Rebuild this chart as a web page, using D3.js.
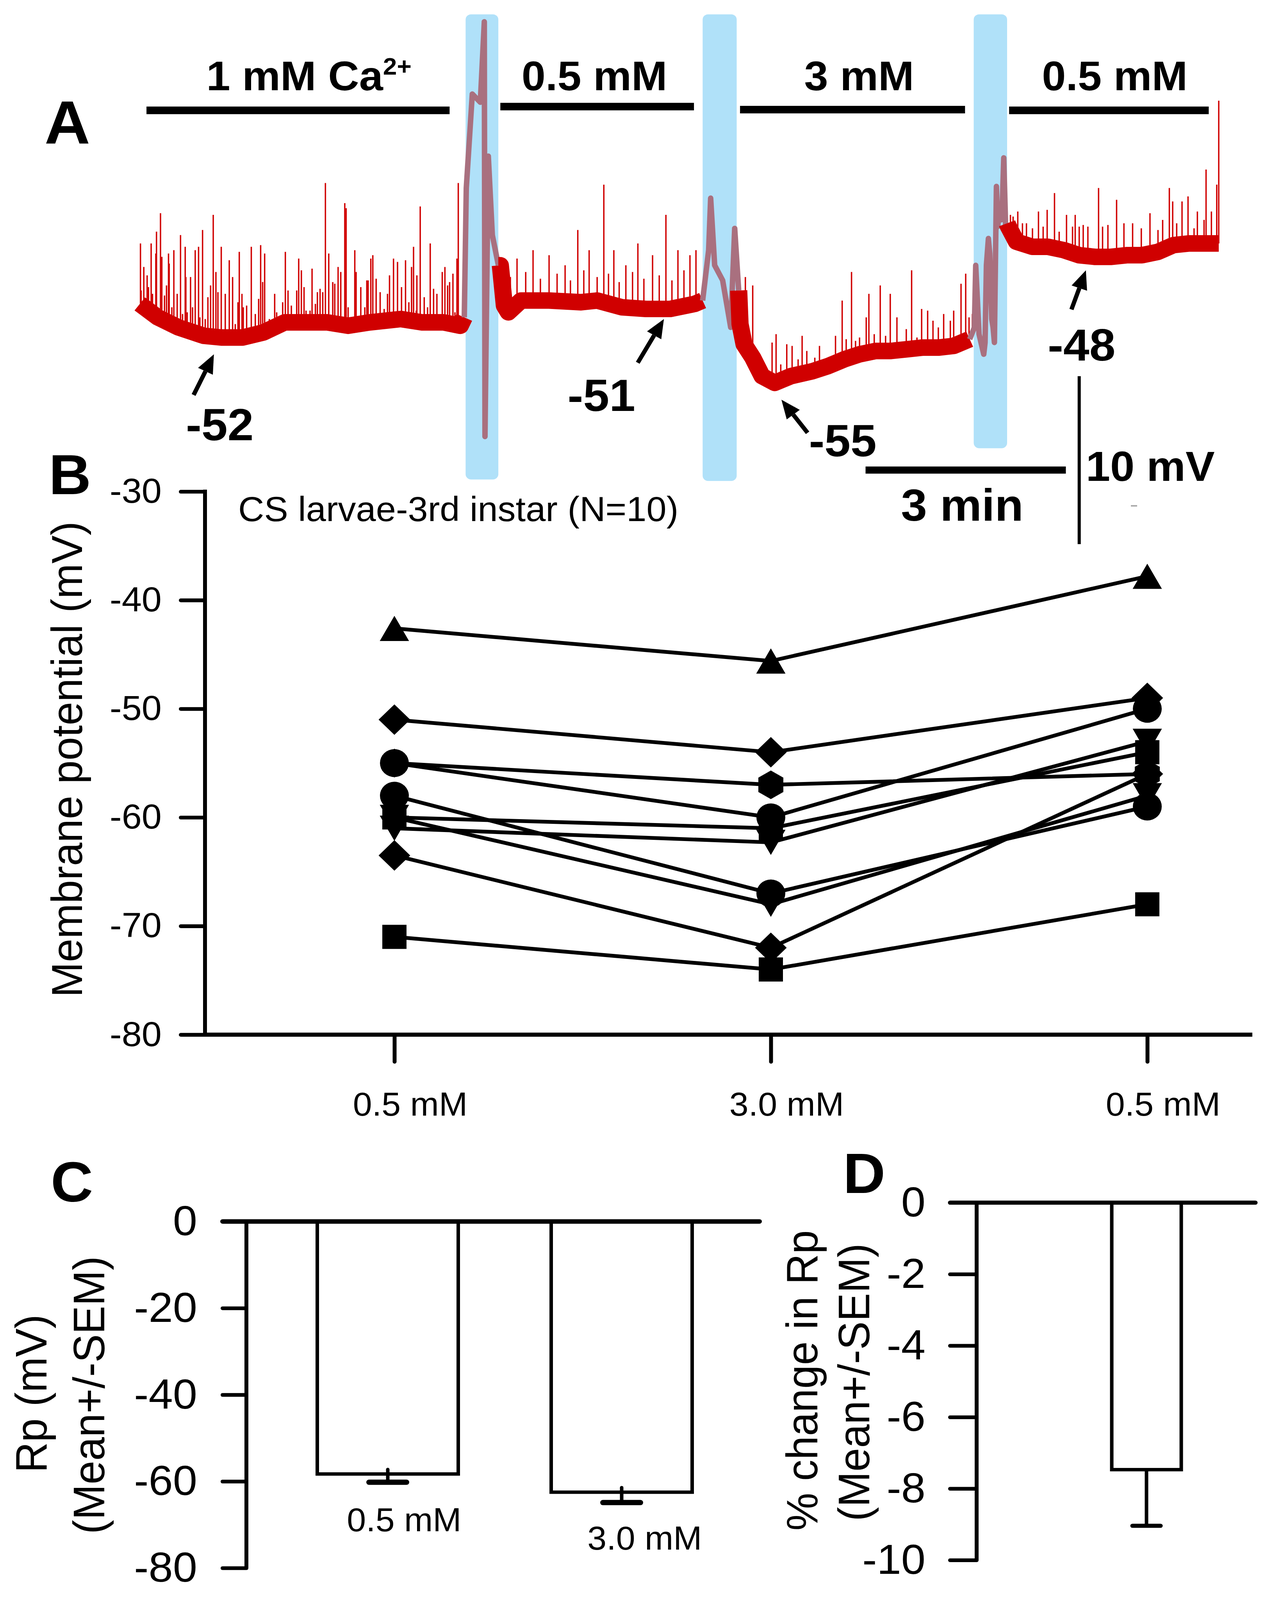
<!DOCTYPE html>
<html>
<head>
<meta charset="utf-8">
<script src="https://cdn.jsdelivr.net/npm/d3@7"></script>
<style>
  html, body { margin: 0; padding: 0; background: #fff; width: 100%; height: 100%; overflow: hidden; }
  .figure { width: 100vw; height: 100vh; }
  svg { display: block; width: 100%; height: 100%; }
</style>
</head>
<body>
<div class="figure"></div>
<script>
// ---------- A: recording (time in min, potential in mV) ----------
const recTime = [
  0.00, 0.27, 0.58, 0.96, 1.22, 1.54, 1.85, 2.17, 2.49, 2.81, 3.12, 3.44, 3.91, 4.23, 4.55, 4.80, 4.86,
  4.89, 4.98, 5.10, 5.16, 5.17, 5.22, 5.28, 5.37,
  5.40, 5.46, 5.52, 5.71, 6.13, 6.61, 6.85, 7.22, 7.58, 7.94, 8.31, 8.43,
  8.52, 8.55, 8.61, 8.73, 8.85, 8.91, 8.97,
  8.99, 9.05, 9.18, 9.32, 9.51, 9.75, 10.08, 10.31, 10.55, 10.78, 11.02, 11.25, 11.49, 11.72, 11.96, 12.19, 12.43,
  12.50, 12.52, 12.57, 12.64, 12.66, 12.68, 12.71, 12.73, 12.76, 12.78, 12.80, 12.83, 12.85, 12.87, 12.90, 12.92, 12.94, 12.97, 12.99,
  13.01, 13.13, 13.37, 13.60, 13.84, 14.07, 14.31, 14.54, 14.78, 15.01, 15.25, 15.48, 15.72, 15.95, 16.16
]
const recMv = [
  -49.8, -50.6, -51.2, -51.7, -51.8, -51.8, -51.5, -50.9, -50.9, -50.9, -51.1, -50.9, -50.7, -50.9, -50.9, -51.1, -50.6,
  -42.9, -37.3, -37.8, -33.0, -57.7, -41.0, -45.7, -47.5,
  -47.5, -49.9, -50.3, -49.6, -49.6, -49.7, -49.6, -50.0, -50.1, -50.1, -49.8, -49.6,
  -46.6, -43.5, -47.5, -48.4, -51.2, -45.3, -49.0,
  -51.0, -52.2, -53.0, -54.1, -54.5, -54.1, -53.8, -53.5, -53.1, -52.8, -52.6, -52.6, -52.5, -52.4, -52.4, -52.3, -51.9,
  -51.2, -47.5, -51.6, -52.8, -52.1, -47.5, -45.9, -46.8, -50.7, -51.2, -52.1, -42.8, -45.2, -44.3, -44.8, -43.7, -41.1, -45.5, -45.0,
  -45.2, -46.1, -46.4, -46.4, -46.6, -46.9, -47.0, -47.0, -46.9, -46.9, -46.7, -46.3, -46.2, -46.2, -46.2
]
// spontaneous events: time and peak potential
const spikeTime = [
  // 1 mM
  0.01, 0.06, 0.11, 0.17, 0.24, 0.25, 0.31, 0.33, 0.43, 0.44, 0.51, 0.61, 0.68, 0.69, 0.76, 0.83, 0.88, 0.94, 1.02, 1.06,
  1.10, 1.14, 1.22, 1.34, 1.39, 1.49, 1.53, 1.67, 1.81, 1.87, 2.02, 2.18, 2.22, 2.38, 2.42, 2.58, 2.63, 2.70, 2.78, 2.83,
  2.97, 3.01, 3.07, 3.09, 3.22, 3.24, 3.40, 3.46, 3.49, 3.54, 3.74, 3.80, 3.86, 3.98, 4.07, 4.10, 4.15, 4.20, 4.35, 4.40,
  4.53, 4.57, 4.69, 4.75, 4.77,
  0.02, 0.13, 0.19, 0.27, 0.37, 0.40, 0.48, 0.56, 0.64, 0.71, 0.79, 0.90, 0.98, 1.17, 1.28, 1.43, 1.47, 1.55, 1.60, 1.73,
  1.78, 1.84, 1.94, 2.05, 2.14, 2.27, 2.35, 2.46, 2.49, 2.55, 2.66, 2.74, 2.89, 2.92, 3.12, 3.31, 3.37, 3.42, 3.60, 3.66,
  3.71, 3.92, 4.03, 4.14, 4.26, 4.31, 4.45, 4.61, 4.64, 4.72,
  // 0.5 mM
  5.65, 5.89, 6.13, 6.37, 6.56, 6.73, 6.95, 7.10, 7.28, 7.46, 7.68, 7.88, 8.06, 8.24, 8.33,
  5.55, 5.78, 6.00, 6.25, 6.45, 6.65, 6.85, 7.02, 7.18, 7.38, 7.55, 7.78, 7.97, 8.15,
  // 3 mM
  9.02, 9.07, 9.11, 9.18, 9.47, 9.53, 9.60, 9.69, 9.77, 9.86, 9.92, 9.99, 10.11, 10.18, 10.29, 10.42, 10.52, 10.58, 10.66, 10.72,
  10.78, 10.88, 10.92, 11.00, 11.09, 11.17, 11.24, 11.34, 11.48, 11.56, 11.64, 11.71, 11.80, 11.88, 11.96, 12.04, 12.14, 12.19, 12.30, 12.37,
  12.42, 12.47,
  // 0.5 mM
  13.04, 13.08, 13.15, 13.22, 13.28, 13.37, 13.46, 13.53, 13.59, 13.70, 13.77, 13.88, 13.97, 14.01, 14.07, 14.13, 14.20, 14.36, 14.42, 14.50,
  14.63, 14.74, 14.87, 15.00, 15.13, 15.25, 15.32, 15.42, 15.47, 15.53, 15.61, 15.70, 15.79, 15.84, 15.94, 15.97, 16.05, 16.13, 16.16
]
const spikeMv = [
  -46.2, -47.6, -48.1, -46.2, -46.8, -45.5, -44.4, -47.0, -46.8, -47.4, -46.6, -45.7, -46.4, -48.2, -48.2, -46.6, -46.4, -45.4, -49.4, -48.7,
  -44.5, -47.9, -46.4, -47.2, -48.2, -46.7, -49.2, -46.4, -46.3, -46.8, -49.2, -46.7, -49.0, -47.1, -47.8, -47.7, -49.8, -48.9, -42.6, -46.8,
  -47.6, -47.9, -43.8, -44.1, -46.6, -47.9, -48.4, -47.1, -46.9, -48.3, -48.1, -47.1, -47.3, -47.2, -47.6, -46.4, -48.1, -44.0, -46.2, -48.9,
  -47.9, -47.6, -48.0, -47.1, -42.6,
  -49.0, -48.8, -49.2, -50.2, -49.3, -48.7, -50.0, -49.2, -50.4, -50.3, -50.0, -50.6, -50.7, -49.1, -49.2, -51.0, -49.7, -50.0, -49.9, -50.4,
  -49.5, -48.5, -50.7, -50.3, -49.7, -49.9, -49.0, -48.8, -50.2, -50.2, -49.1, -49.1, -48.5, -48.6, -50.0, -48.8, -50.0, -48.4, -49.1, -50.1,
  -49.2, -48.8, -49.7, -50.2, -49.4, -50.0, -49.2, -48.7, -48.5, -50.3,
  -47.1, -46.6, -46.9, -47.5, -45.4, -46.6, -42.7, -46.6, -47.5, -46.2, -46.9, -44.5, -46.6, -46.9, -46.6,
  -48.2, -47.9, -48.3, -48.0, -48.4, -47.8, -48.2, -48.0, -48.5, -47.9, -48.3, -48.1, -48.4, -47.8,
  -50.6, -48.2, -51.2, -48.7, -52.1, -51.6, -53.4, -52.2, -52.3, -53.1, -51.7, -52.6, -53.0, -52.3, -53.2, -51.7, -49.6, -51.9, -47.9, -52.0,
  -51.8, -50.6, -49.2, -51.6, -48.7, -51.7, -49.2, -50.6, -51.3, -47.8, -51.8, -50.1, -50.2, -50.8, -51.2, -50.4, -50.8, -50.2, -48.6, -48.0,
  -50.6, -50.4,
  -44.5, -44.6, -44.3, -45.0, -45.0, -45.3, -44.3, -45.2, -44.2, -43.2, -45.5, -44.5, -45.2, -44.5, -45.2, -45.1, -45.2, -42.9, -45.2, -45.1,
  -43.6, -45.0, -45.0, -45.3, -44.4, -45.4, -44.8, -42.9, -43.7, -45.0, -43.7, -43.4, -45.3, -44.3, -44.8, -41.8, -44.3, -42.7, -37.7
]
const washStart = [4.88, 8.43, 12.49]
const washEnd = [5.37, 8.94, 12.99]
const solutionLabels = ["1 mM Ca", "0.5 mM", "3 mM", "0.5 mM"]
const solutionStart = [0.10, 5.40, 8.99, 13.02]
const solutionEnd = [4.64, 8.30, 12.36, 16.01]
const restLabels = ["-52", "-51", "-55", "-48"]
const restTime = [1.11, 7.85, 9.61, 14.17]
const restMv = [-52.8, -50.7, -55.5, -47.8]

// ---------- B: individual larvae ----------
const concLabels = ["0.5 mM", "3.0 mM", "0.5 mM"]
const larvaShape = ["triangle", "diamond", "hexagon", "circle", "circle", "triangleDown", "square", "triangleDown", "diamond", "square"]
const larvaMv = [
  [-42.6, -45.6, -37.8],
  [-51, -54, -49],
  [-55, -57, -56],
  [-55, -60, -50],
  [-58, -67, -59],
  [-60, -68, -58],
  [-60, -61, -54],
  [-61, -62.3, -53],
  [-63.5, -72, -56],
  [-71, -74, -68]
]
const bTicks = [-30, -40, -50, -60, -70, -80]

// ---------- C: mean Rp ----------
const rpConc = ["0.5 mM", "3.0 mM"]
const rpMean = [-58.3, -62.5]
const rpSem = [1.9, 2.4]
const cTicks = [0, -20, -40, -60, -80]

// ---------- D: % change ----------
const pctMean = [-7.47]
const pctSem = [1.57]
const dTicks = [0, -2, -4, -6, -8, -10]

const W = 3242, H = 4248
const font = '"Liberation Sans", Arial, Helvetica, sans-serif'
const svg = d3.select(".figure").append("svg")
  .attr("viewBox", `0 0 ${W} ${H}`)
  .attr("preserveAspectRatio", "none")
  .attr("font-family", font)
svg.append("rect").attr("width", W).attr("height", H).attr("fill", "#fff")

const panelLetter = (x, y, s, size) =>
  svg.append("text").attr("x", x).attr("y", y).attr("font-size", size).attr("font-weight", "bold").text(s)

// =================== panel A ===================
const xA = d3.scaleLinear().domain([0, 16.16]).range([358, 3121])
const yA = d3.scaleLinear().domain([-52, -42]).range([905, 459])
const gA = svg.append("g")

panelLetter(114, 381, "A", 162)

// solution changes (blue)
const washBottom = [1273, 1277, 1190]
gA.selectAll("rect.wash").data(washStart).enter().append("rect")
  .attr("class", "wash")
  .attr("x", d => xA(d)).attr("width", (d, i) => xA(washEnd[i]) - xA(d))
  .attr("y", 38).attr("height", (d, i) => washBottom[i] - 38)
  .attr("rx", 14).attr("fill", "#b0e1f9")

// trace, split into normal (red) and wash (mauve) runs
const rec = recTime.map((t, i) => ({ t, v: recMv[i] }))
const inWash = t => washStart.some((s, i) => t > s && t < washEnd[i])
const runs = []
let cur = null
for (let i = 0; i < rec.length - 1; i++) {
  const w = inWash(rec[i].t) || inWash(rec[i + 1].t)
  if (!cur || cur.w !== w) { cur = { w, pts: [rec[i]] }; runs.push(cur) }
  cur.pts.push(rec[i + 1])
}
const bis = d3.bisector(d => d.t).right
const baseAt = t => {
  const i = Math.max(1, Math.min(rec.length - 1, bis(rec, t)))
  const a = rec[i - 1], b = rec[i]
  return a.v + (b.v - a.v) * (t - a.t) / (b.t - a.t)
}
gA.selectAll("line.spike").data(spikeTime).enter().append("line")
  .attr("class", "spike")
  .attr("x1", d => xA(d)).attr("x2", d => xA(d))
  .attr("y1", d => yA(baseAt(d))).attr("y2", (d, i) => yA(spikeMv[i]))
  .attr("stroke", "#d00000").attr("stroke-width", 3.5)

const traceLine = d3.line().x(d => xA(d.t)).y(d => yA(d.v))
gA.selectAll("path.run").data(runs).enter().append("path")
  .attr("class", "run")
  .attr("d", d => traceLine(d.pts))
  .attr("fill", "none")
  .attr("stroke", d => d.w ? "#a9707f" : "#d00000")
  .attr("stroke-width", d => d.w ? 14 : 44)
  .attr("stroke-linejoin", "round")

// solution bars + labels
const barY = [293, 283, 291, 293]
const labelDx = [28, -7, 17, 15]
gA.selectAll("line.sol").data(solutionStart).enter().append("line")
  .attr("x1", d => xA(d)).attr("x2", (d, i) => xA(solutionEnd[i]))
  .attr("y1", (d, i) => barY[i]).attr("y2", (d, i) => barY[i])
  .attr("stroke", "#000").attr("stroke-width", 20)
const solText = gA.selectAll("text.sol").data(solutionLabels).enter().append("text")
  .attr("x", (d, i) => (xA(solutionStart[i]) + xA(solutionEnd[i])) / 2 + labelDx[i])
  .attr("y", 240).attr("text-anchor", "middle")
  .attr("font-size", 110).attr("font-weight", "bold")
solText.append("tspan").text(d => d)
solText.filter((d, i) => i === 0).append("tspan")
  .attr("dy", -42).attr("font-size", 64).text("2+")

// resting potential arrows
const arrowTail = [[-52, 108], [-67, 116], [67, 88], [-37, 104]]
const labelOff = [[15, 228], [-160, 244], [157, 150], [-11, 240]]
restLabels.forEach((lab, i) => {
  const x2 = xA(restTime[i]), y2 = yA(restMv[i])
  const x1 = x2 + arrowTail[i][0], y1 = y2 + arrowTail[i][1]
  const len = Math.hypot(x2 - x1, y2 - y1)
  const ux = (x2 - x1) / len, uy = (y2 - y1) / len
  const hl = 50, hw = 21
  const bx = x2 - ux * hl, by = y2 - uy * hl
  gA.append("line").attr("x1", x1).attr("y1", y1).attr("x2", bx).attr("y2", by)
    .attr("stroke", "#000").attr("stroke-width", 11)
  gA.append("path")
    .attr("d", `M${x2},${y2}L${bx - uy * hw},${by + ux * hw}L${bx + uy * hw},${by - ux * hw}Z`)
    .attr("fill", "#000")
  gA.append("text").attr("x", x2 + labelOff[i][0]).attr("y", y2 + labelOff[i][1])
    .attr("text-anchor", "middle").attr("font-size", 120).attr("font-weight", "bold").text(lab)
})

// scale bars: 3 min, 10 mV
const sbT = 10.87, sbV = -59.69, svT = 14.07, svV = -64.1
gA.append("line").attr("x1", xA(sbT)).attr("x2", xA(sbT + 3))
  .attr("y1", yA(sbV)).attr("y2", yA(sbV)).attr("stroke", "#000").attr("stroke-width", 19)
gA.append("text").attr("x", (xA(sbT) + xA(sbT + 3)) / 2 - 9).attr("y", yA(sbV) + 135)
  .attr("text-anchor", "middle").attr("font-size", 120).attr("font-weight", "bold").text("3 min")
gA.append("line").attr("x1", xA(svT)).attr("x2", xA(svT))
  .attr("y1", yA(svV)).attr("y2", yA(svV + 10)).attr("stroke", "#000").attr("stroke-width", 8)
gA.append("text").attr("x", xA(svT) + 17).attr("y", 1277)
  .attr("font-size", 112).attr("font-weight", "bold").text("10 mV")
gA.append("line").attr("x1", 2896).attr("x2", 2912).attr("y1", 1343).attr("y2", 1343)
  .attr("stroke", "#aaa").attr("stroke-width", 4)

// =================== panel B ===================
const xB = d3.scalePoint().domain([0, 1, 2]).range([1010, 2938])
const yB = d3.scaleLinear().domain([-80, -30]).range([2747, 1305])
const gB = svg.append("g")
panelLetter(125, 1312, "B", 150)

const styleAxis = (g, size) => {
  g.select(".domain").remove()
  g.attr("font-family", font).attr("font-size", size)
  g.selectAll(".tick line").attr("stroke", "#000").attr("stroke-width", 10).attr("stroke-linecap", "round")
  g.selectAll(".tick text").attr("fill", "#000")
}
const plain = d => String(d)

const yAxisB = gB.append("g").attr("transform", "translate(525,0)")
  .call(d3.axisLeft(yB).tickValues(bTicks).tickFormat(plain).tickSize(62).tickPadding(49))
styleAxis(yAxisB, 92)
gB.append("line").attr("x1", 525).attr("x2", 525).attr("y1", yB(-30) - 5).attr("y2", yB(-80))
  .attr("stroke", "#000").attr("stroke-width", 10)

const xAxisB = gB.append("g").attr("transform", `translate(0,${yB(-80)})`)
  .call(d3.axisBottom(xB).tickFormat(i => concLabels[i]).tickSize(72).tickPadding(80))
styleAxis(xAxisB, 88)
xAxisB.selectAll(".tick text").attr("dx", 40)
gB.append("line").attr("x1", 520).attr("x2", 3207).attr("y1", yB(-80)).attr("y2", yB(-80))
  .attr("stroke", "#000").attr("stroke-width", 11)

gB.append("text").attr("transform", `translate(210,2016) rotate(-90)`)
  .attr("text-anchor", "middle").attr("font-size", 112).text("Membrane potential (mV)")
gB.append("text").attr("x", 610).attr("y", 1384).attr("font-size", 92).text("CS larvae-3rd instar (N=10)")

const lineB = d3.line().x((d, i) => xB(i)).y(d => yB(d))
gB.selectAll("path.larva").data(larvaMv).enter().append("path")
  .attr("class", "larva").attr("d", lineB)
  .attr("fill", "none").attr("stroke", "#000").attr("stroke-width", 10)

const shapePath = {
  triangle: "M0,-33.5L37.5,33.5L-37.5,33.5Z",
  triangleDown: "M0,33.5L37.5,-33.5L-37.5,-33.5Z",
  diamond: "M0,-40.5L40.5,0L0,40.5L-40.5,0Z",
  square: "M-31,-32H31V32H-31Z",
  hexagon: "M0,-38L32,-19L32,19L0,38L-32,19L-32,-19Z",
  circle: "M-37,0A37,37 0 1,0 37,0A37,37 0 1,0 -37,0Z"
}
const markers = []
larvaMv.forEach((row, s) => row.forEach((v, i) => markers.push({ s, i, v })))
gB.selectAll("path.mk").data(markers).enter().append("path")
  .attr("class", "mk")
  .attr("transform", d => `translate(${xB(d.i)},${yB(d.v)})`)
  .attr("d", d => shapePath[larvaShape[d.s]])
  .attr("fill", "#000")

// =================== panel C ===================
const xC = d3.scalePoint().domain(rpConc).range([993, 1592])
const yC = d3.scaleLinear().domain([-80, 0]).range([4163, 3243])
const gC = svg.append("g")
panelLetter(130, 3190, "C", 150)
const yAxisC = gC.append("g").attr("transform", "translate(631,0)")
  .call(d3.axisLeft(yC).tickValues(cTicks).tickFormat(plain).tickSize(61).tickPadding(65))
styleAxis(yAxisC, 112)
gC.append("line").attr("x1", 631).attr("x2", 631).attr("y1", yC(0)).attr("y2", yC(-80))
  .attr("stroke", "#000").attr("stroke-width", 10)
const barW = 361
gC.selectAll("rect.bar").data(rpMean).enter().append("rect")
  .attr("x", (d, i) => xC(rpConc[i]) - barW / 2).attr("width", barW)
  .attr("y", yC(0)).attr("height", d => yC(d) - yC(0))
  .attr("fill", "#fff").attr("stroke", "#000").attr("stroke-width", 9)
gC.selectAll("line.err").data(rpMean).enter().append("line")
  .attr("x1", (d, i) => xC(rpConc[i])).attr("x2", (d, i) => xC(rpConc[i]))
  .attr("y1", d => yC(d) - 12).attr("y2", (d, i) => yC(d - rpSem[i]))
  .attr("stroke", "#000").attr("stroke-width", 9).attr("stroke-linecap", "round")
gC.selectAll("line.cap").data(rpMean).enter().append("line")
  .attr("x1", (d, i) => xC(rpConc[i]) - 48).attr("x2", (d, i) => xC(rpConc[i]) + 48)
  .attr("y1", (d, i) => yC(d - rpSem[i])).attr("y2", (d, i) => yC(d - rpSem[i]))
  .attr("stroke", "#000").attr("stroke-width", 14).attr("stroke-linecap", "round")
gC.append("line").attr("x1", 570).attr("x2", 1945).attr("y1", yC(0)).attr("y2", yC(0))
  .attr("stroke", "#000").attr("stroke-width", 12).attr("stroke-linecap", "round")
const cLabelDx = [42, 59]
gC.selectAll("text.cl").data(rpConc).enter().append("text")
  .attr("x", (d, i) => xC(d) + cLabelDx[i]).attr("y", (d, i) => yC(rpMean[i]) + 152)
  .attr("text-anchor", "middle").attr("font-size", 88).text(d => d)
gC.append("text").attr("transform", "translate(119,3700) rotate(-90)")
  .attr("text-anchor", "middle").attr("font-size", 113).text("Rp (mV)")
gC.append("text").attr("transform", "translate(267,3704) rotate(-90)")
  .attr("text-anchor", "middle").attr("font-size", 113).text("(Mean+/-SEM)")

// =================== panel D ===================
const yD = d3.scaleLinear().domain([-10, 0]).range([4142, 3193])
const xD = 2936, barWD = 178
const gD = svg.append("g")
panelLetter(2159, 3167, "D", 150)
const yAxisD = gD.append("g").attr("transform", "translate(2501,0)")
  .call(d3.axisLeft(yD).tickValues(dTicks).tickFormat(plain).tickSize(68).tickPadding(63))
styleAxis(yAxisD, 112)
gD.append("line").attr("x1", 2501).attr("x2", 2501).attr("y1", yD(0)).attr("y2", yD(-10))
  .attr("stroke", "#000").attr("stroke-width", 10)
gD.selectAll("rect.bar").data(pctMean).enter().append("rect")
  .attr("x", xD - barWD / 2).attr("width", barWD)
  .attr("y", yD(0)).attr("height", d => yD(d) - yD(0))
  .attr("fill", "#fff").attr("stroke", "#000").attr("stroke-width", 9)
gD.selectAll("line.err").data(pctMean).enter().append("line")
  .attr("x1", xD).attr("x2", xD)
  .attr("y1", d => yD(d)).attr("y2", (d, i) => yD(d - pctSem[i]))
  .attr("stroke", "#000").attr("stroke-width", 9)
gD.selectAll("line.cap").data(pctMean).enter().append("line")
  .attr("x1", xD - 36).attr("x2", xD + 36)
  .attr("y1", (d, i) => yD(d - pctSem[i])).attr("y2", (d, i) => yD(d - pctSem[i]))
  .attr("stroke", "#000").attr("stroke-width", 11).attr("stroke-linecap", "round")
gD.append("line").attr("x1", 2433).attr("x2", 3215).attr("y1", yD(0)).attr("y2", yD(0))
  .attr("stroke", "#000").attr("stroke-width", 11).attr("stroke-linecap", "round")
gD.append("text").attr("transform", "translate(2093,3665) rotate(-90)")
  .attr("text-anchor", "middle").attr("font-size", 113).text("% change in Rp")
gD.append("text").attr("transform", "translate(2226,3670) rotate(-90)")
  .attr("text-anchor", "middle").attr("font-size", 113).text("(Mean+/-SEM)")
</script>
</body>
</html>
